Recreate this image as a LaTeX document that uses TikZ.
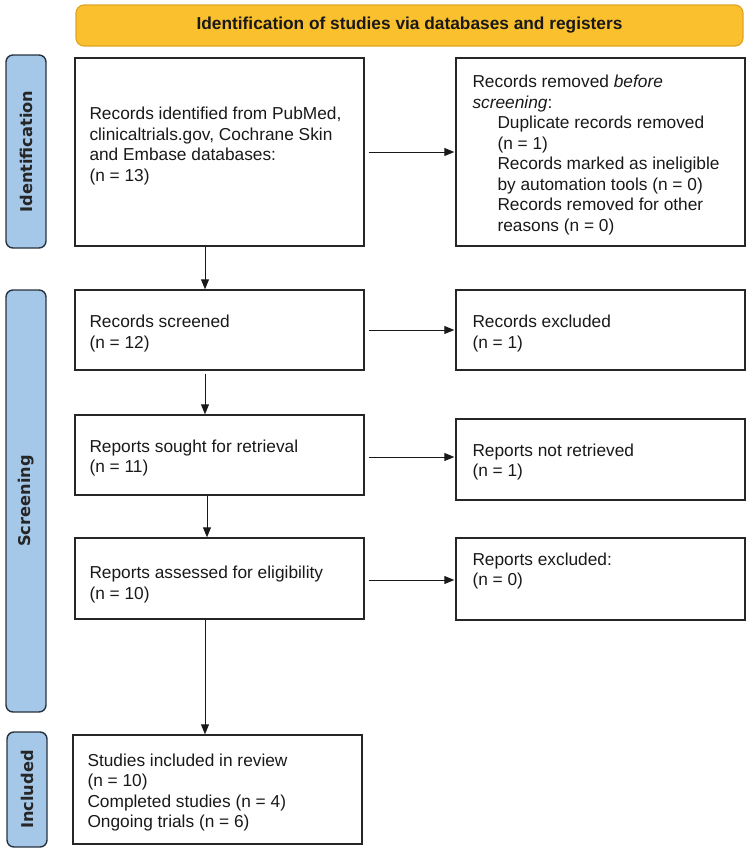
\documentclass[tikz,border=0pt]{standalone}
\usepackage{fontspec}
\setmainfont{Liberation Sans}
\newfontfamily\sidefont{DejaVu Sans}
\usetikzlibrary{arrows.meta}
\definecolor{bannerfill}{RGB}{251,192,45}
\definecolor{bannerdraw}{RGB}{222,165,35}
\definecolor{sidefill}{RGB}{165,200,233}
\definecolor{sidedraw}{RGB}{40,50,62}
\definecolor{txt}{RGB}{25,25,25}
\begin{document}
\begin{tikzpicture}[x=1pt,y=-1pt,
  box/.style={draw=black!85, line width=1.4pt, inner sep=0pt, minimum width=289pt},
  lbl/.style={anchor=west, align=left, inner sep=0pt, text=txt, font=\fontsize{17.3}{20.5}\selectfont},
  side/.style={draw=sidedraw, fill=sidefill, line width=1.4pt, rounded corners=7pt, inner sep=0pt, minimum width=40pt},
  sidelbl/.style={rotate=90, inner sep=0pt, font=\sidefont\bfseries\fontsize{16.2}{18}\selectfont, text=black!85},
  arr/.style={line width=0.9pt, draw=black!90, -{Triangle[length=10pt,width=8pt]}}]
\useasboundingbox (0,0) rectangle (750,849);

% banner
\node[draw=bannerdraw, fill=bannerfill, line width=1.2pt, rounded corners=8pt,
      minimum width=667pt, minimum height=41pt, inner sep=0pt,
      font=\bfseries\fontsize{17.3}{20}\selectfont, text=txt] (ban) at (409.5,25.5)
      {Identification of studies via databases and registers};

% side bars
\node[side, minimum height=193pt] (sid) at (26,151.5) {};
\node[sidelbl] (sidt) at (sid.center) {Identification};
\node[side, minimum height=422pt] (sscr) at (26,501) {};
\node[sidelbl] (sscrt) at (sscr.center) {Screening};
\node[side, minimum height=115pt] (sinc) at (27,789.5) {};
\node[sidelbl] (sinct) at (sinc.center) {Included};

% boxes
\node[box, minimum height=188pt] (b1) at (219.5,152) {};
\node[box, minimum height=188pt] (r1) at (600.5,152) {};
\node[box, minimum height=80pt] (s) at (219.5,330) {};
\node[box, minimum height=80pt] (rs) at (600.5,330) {};
\node[box, minimum height=80pt] (so) at (219.5,455) {};
\node[box, minimum height=81pt] (nr) at (600.5,459.5) {};
\node[box, minimum height=81pt] (as) at (219.5,578.5) {};
\node[box, minimum height=82pt] (ex) at (600.5,579) {};
\node[box, minimum height=109pt] (inc) at (217.5,789.5) {};

% texts
\node[lbl] (b1t) at ([xshift=15pt,yshift=6pt]b1.west)
  {Records identified from PubMed,\\clinicaltrials.gov, Cochrane Skin\\and Embase databases:\\(n = 13)};
\node[lbl] (r1t) at ([xshift=17pt,yshift=-3pt]r1.west)
  {Records removed \textit{before}\\\textit{screening}:\\
   \hspace*{25pt}Duplicate records removed\\\hspace*{25pt}(n = 1)\\
   \hspace*{25pt}Records marked as ineligible\\\hspace*{25pt}by automation tools (n = 0)\\
   \hspace*{25pt}Records removed for other\\\hspace*{25pt}reasons (n = 0)};
\node[lbl] (st) at ([xshift=15pt,yshift=-3.5pt]s.west) {Records screened\\(n = 12)};
\node[lbl] (rst) at ([xshift=17pt,yshift=-3.5pt]rs.west) {Records excluded\\(n = 1)};
\node[lbl] (sot) at ([xshift=15pt,yshift=-3pt]so.west) {Reports sought for retrieval\\(n = 11)};
\node[lbl] (nrt) at ([xshift=17pt,yshift=-2.5pt]nr.west) {Reports not retrieved\\(n = 1)};
\node[lbl] (ast) at ([xshift=15pt,yshift=-6pt]as.west) {Reports assessed for eligibility\\(n = 10)};
\node[lbl] (ext) at ([xshift=17pt,yshift=8pt]ex.west) {Reports excluded:\\(n = 0)};
\node[lbl] (inct) at ([xshift=15pt,yshift=-3pt]inc.west)
  {Studies included in review\\(n = 10)\\Completed studies (n = 4)\\Ongoing trials (n = 6)};

% connectors
\coordinate (ax) at (205,0);
\draw[arr] ([xshift=4pt]b1.east) -- ([xshift=-1pt]r1.west |- b1.east);
\draw[arr] ([xshift=4pt]s.east) -- ([xshift=-1pt]rs.west |- s.east);
\draw[arr] ([xshift=4pt,yshift=-2pt]so.east) -- ([xshift=-1pt,yshift=-2pt]nr.west |- so.east);
\draw[arr] ([xshift=4pt,yshift=-1.5pt]as.east) -- ([xshift=-1pt,yshift=-1.5pt]ex.west |- as.east);
\draw[arr] (b1.south -| ax) -- (s.north -| ax);
\draw[arr] ([yshift=-3pt]s.south -| ax) -- (so.north -| ax);
\draw[arr] ([xshift=2pt]so.south -| ax) -- ([xshift=2pt]as.north -| ax);
\draw[arr] (as.south -| ax) -- (inc.north -| ax);
\end{tikzpicture}
\end{document}
